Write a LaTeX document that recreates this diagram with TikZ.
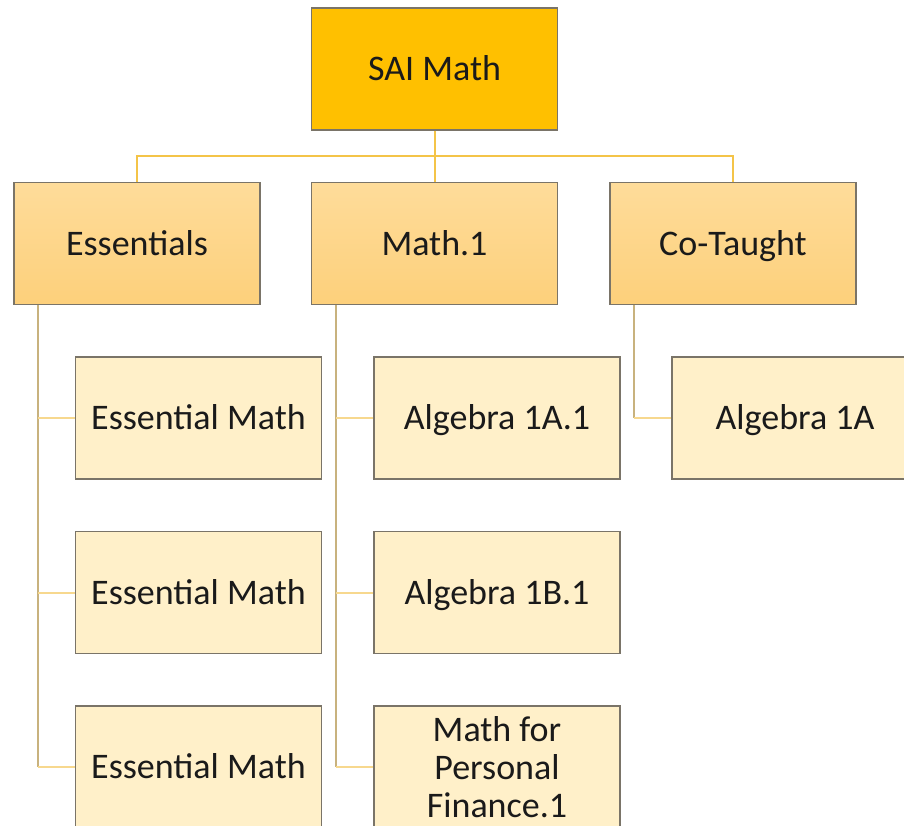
\documentclass[tikz,border=0pt]{standalone}
\usepackage{fontspec}
\setmainfont{Carlito}
\begin{document}
\begin{tikzpicture}[x=1pt,y=-1pt,
  box/.style={rectangle, draw=boxline, line width=1.3pt, minimum width=246pt, minimum height=122pt, inner sep=0pt, text=txt, font=\fontsize{36}{40}\selectfont, align=center},
  oneline/.style={text height=27pt, text depth=4pt},
  rootbox/.style={box, oneline, fill=rootfill},
  lvlone/.style={box, oneline, top color=lonetop, bottom color=lonebot},
  lvltwo/.style={box, oneline, fill=ltwofill},
  lvltwomulti/.style={box, fill=ltwofill, font=\fontsize{36}{38}\selectfont},
  toplink/.style={draw=toplinecol, line width=2pt},
  vlink/.style={draw=vlinecol, line width=2pt},
  hlink/.style={draw=hlinecol, line width=2pt}]
\definecolor{rootfill}{HTML}{FFC000}
\definecolor{lonetop}{HTML}{FEDC9A}
\definecolor{lonebot}{HTML}{FDD07B}
\definecolor{ltwofill}{HTML}{FFF0C9}
\definecolor{boxline}{HTML}{7A7468}
\definecolor{txt}{HTML}{1A1A1A}
\definecolor{toplinecol}{HTML}{F4C448}
\definecolor{vlinecol}{HTML}{C8B27E}
\definecolor{hlinecol}{HTML}{F7D88E}
\useasboundingbox (0,0) rectangle (904,826);
\clip (0,0) rectangle (904,826);
% nodes
\node[rootbox] (root) at (434.5,69) {SAI Math};
\node[lvlone] (ess) at (137,243.5) {Essentials};
\node[lvlone] (mone) at (434.5,243.5) {Math.1};
\node[lvlone] (cot) at (733,243.5) {Co-Taught};
\node[lvltwo] (em1) at (198.5,418) {Essential Math};
\node[lvltwo] (em2) at (198.5,592.5) {Essential Math};
\node[lvltwo] (em3) at (198.5,767) {Essential Math};
\node[lvltwo] (alga) at (497,418) {Algebra 1A.1};
\node[lvltwo] (algb) at (497,592.5) {Algebra 1B.1};
\node[lvltwomulti] (mpf) at (497,767) {Math for\\Personal\\Finance.1};
\node[lvltwo] (algc) at (795,418) {Algebra 1A};
% connectors root
\coordinate (hub) at (434.5,156);
\draw[toplink] (root.south) -- (hub);
\draw[toplink] (hub) -| (ess.north);
\draw[toplink] (hub) -| (cot.north);
\draw[toplink] (hub) -- (mone.north);
% branches
\coordinate (essx) at ([xshift=25pt]ess.south west);
\coordinate (monex) at ([xshift=25pt]mone.south west);
\coordinate (cotx) at ([xshift=25pt]cot.south west);
\draw[vlink] (essx) -- (essx |- em3.west);
\draw[hlink] (essx |- em1.west) -- (em1.west);
\draw[hlink] (essx |- em2.west) -- (em2.west);
\draw[hlink] (essx |- em3.west) -- (em3.west);
\draw[vlink] (monex) -- (monex |- mpf.west);
\draw[hlink] (monex |- alga.west) -- (alga.west);
\draw[hlink] (monex |- algb.west) -- (algb.west);
\draw[hlink] (monex |- mpf.west) -- (mpf.west);
\draw[vlink] (cotx) -- (cotx |- algc.west);
\draw[hlink] (cotx |- algc.west) -- (algc.west);
\end{tikzpicture}
\end{document}
